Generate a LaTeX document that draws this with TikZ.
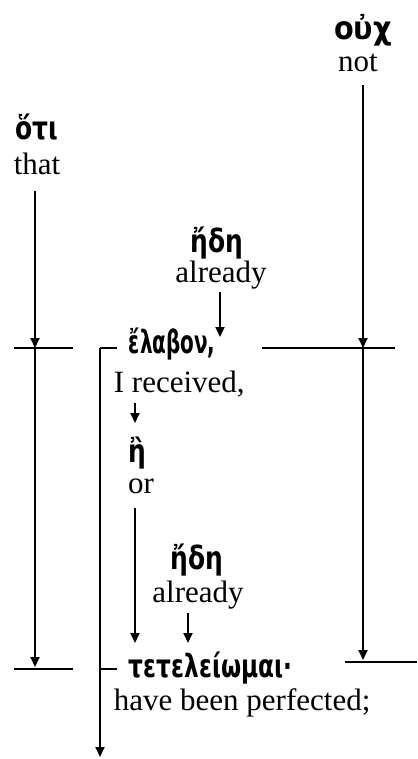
\documentclass[tikz,border=0pt]{standalone}
\usepackage{fontspec}
\setmainfont{Liberation Serif}
\newfontfamily\grk{DejaVu Sans}[FakeStretch=0.78]
\usetikzlibrary{arrows.meta}
\begin{document}
\begin{tikzpicture}[x=1pt,y=-1pt,line width=1.8pt,
  gk/.style={font=\grk\bfseries\fontsize{32}{34}\selectfont,inner sep=0pt},
  en/.style={font=\fontsize{31}{36}\selectfont,inner sep=0pt},
  arr/.style={-{Triangle[length=10pt,width=9pt]}}]
\useasboundingbox (0,0) rectangle (417,759);
% words
\node[gk] (ouch) at (363,30) {\scalebox{1.15}[1]{οὐχ}};
\node[en] (not) at (358,63) {not};
\node[gk] (hoti) at (37,127) {ὅτι};
\node[en] (that) at (37,164) {that};
\node[gk] (ede1) at (217,243) {ἤδη};
\node[en] (already1) at (221,275) {already};
\node[gk,anchor=base west] (elabon) at (128,353) {\scalebox{0.8}[1]{ἔλαβον,}};
\node[en,anchor=base west] (received) at (113,392) {I received,};
\node[gk] (e) at (137,453) {ἢ};
\node[en] (or) at (141,486) {or};
\node[gk] (ede2) at (197,560) {ἤδη};
\node[en] (already2) at (198,595) {already};
\node[gk,anchor=base west] (tetel) at (128,677) {\scalebox{0.93}[1]{τετελείωμαι·}};
\node[en,anchor=base west] (perf) at (113,710) {have been perfected;};
% coordinates
\coordinate (rtop) at (363,85);
\coordinate (r1) at (363,348);
\coordinate (r2) at (363,660);
\coordinate (ltop) at (35,191);
\coordinate (l1) at (35,348);
\coordinate (l2) at (35,667);
\coordinate (b1) at (100,348);
\coordinate (b2) at (100,669);
\coordinate (bend) at (100,757);
\coordinate (a1s) at (220,292);
\coordinate (a1e) at (220,337);
\coordinate (a2s) at (135,403);
\coordinate (a2e) at (135,423);
\coordinate (a3s) at (135,508);
\coordinate (a3e) at (135,643);
\coordinate (a4s) at (188,613);
\coordinate (a4e) at (188,643);
\coordinate (h1a) at (262,348);
\coordinate (h1b) at (395,348);
\coordinate (h2a) at (345,662);
\coordinate (h2b) at (417,662);
\coordinate (h3a) at (14,348);
\coordinate (h3b) at (73,348);
\coordinate (h4a) at (14,669);
\coordinate (h4b) at (73,669);
\coordinate (t1) at (117,348);
\coordinate (t2) at (117,669);
% baselines
\draw (h1a) -- (h1b);
\draw (h2a) -- (h2b);
\draw (h3a) -- (h3b);
\draw (h4a) -- (h4b);
\draw (t1) -- (b1);
\draw (b2) -- (t2);
% connectors
\draw[arr] (rtop) -- (r1);
\draw[arr] (r1) -- (r2);
\draw[arr] (ltop) -- (l1);
\draw[arr] (l1) -- (l2);
\draw[arr] (b1) -- (bend);
\draw[arr] (a1s) -- (a1e);
\draw[arr] (a2s) -- (a2e);
\draw[arr] (a3s) -- (a3e);
\draw[arr] (a4s) -- (a4e);
\end{tikzpicture}
\end{document}
